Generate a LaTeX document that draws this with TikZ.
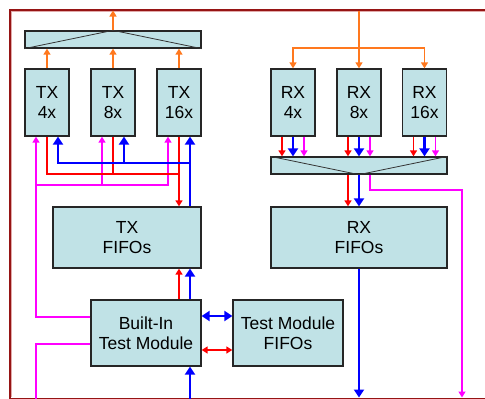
\documentclass[tikz,border=0pt]{standalone}
\usepackage{fontspec}
\setmainfont{Liberation Sans}
\usetikzlibrary{arrows.meta}

\definecolor{boxfill}{RGB}{192,226,230}
\definecolor{sigorange}{RGB}{255,120,30}
\definecolor{sigred}{RGB}{255,0,0}
\definecolor{sigblue}{RGB}{0,0,255}
\definecolor{sigmag}{RGB}{255,0,255}
\definecolor{framered}{RGB}{150,20,20}
\definecolor{framepink}{RGB}{225,170,170}

\begin{document}
\begin{tikzpicture}[x=1pt, y=-1pt,
  box/.style={rectangle, draw=black!85, line width=1.3pt, fill=boxfill,
              font=\fontsize{17.5}{20.5}\selectfont, align=center, inner sep=0pt},
  lane/.style={box, minimum width=44pt, minimum height=67pt},
  fifo/.style={box, minimum height=61pt},
  module/.style={box, minimum width=110pt, minimum height=66pt},
  mux/.style={box, minimum width=176pt, minimum height=17pt},
  muxline/.style={draw=black!80, line width=0.8pt},
  wireorange/.style={-{Triangle[length=6pt,width=7pt]}, draw=sigorange, line width=1.4pt},
  wirered/.style={draw=sigred, line width=1.5pt, >={Triangle[length=6pt,width=7pt]}},
  wireblue/.style={draw=sigblue, line width=2.2pt, >={Triangle[length=8pt,width=10pt]}},
  wiremag/.style={draw=sigmag, line width=1.4pt, >={Triangle[length=6pt,width=7pt]}}
]
  \useasboundingbox (0,0) rectangle (485,399);

  % frame
  \draw[framered, line width=2pt] (486,9.5) -- (9.5,9.5) -- (9.5,398.5) -- (486,398.5);
  \draw[framepink, line width=0.8pt] (486,11.5) -- (11.5,11.5) -- (11.5,397);

  % TX side
  \node[mux]  (txmux) at (113,39.5) {};
  \node[lane] (tx4)   at (47,102.5)  {TX\\4x};
  \node[lane] (tx8)   at (113,102.5) {TX\\8x};
  \node[lane] (tx16)  at (179,102.5) {TX\\16x};
  \node[fifo, minimum width=148pt] (txfifo) at (127,237.5) {TX\\FIFOs};
  \node[module] (bist)   at (146,333) {Built-In\\Test Module};
  \node[module] (tmfifo) at (288,333) {Test Module\\FIFOs};

  % RX side
  \node[lane] (rx4)  at (293,102.5)   {RX\\4x};
  \node[lane] (rx8)  at (359,102.5)   {RX\\8x};
  \node[lane] (rx16) at (424.5,102.5) {RX\\16x};
  \node[mux]  (rxmux) at (359,165.5) {};
  \node[fifo, minimum width=176pt] (rxfifo) at (359,237.5) {RX\\FIFOs};

  \draw[muxline] (txmux.south west) -- (txmux.north) -- (txmux.south east);
  \draw[muxline] (rxmux.north west) -- (rxmux.south) -- (rxmux.north east);

  \coordinate (txout)  at (113,10.5);
  \coordinate (rxin)   at (359,10.5);
  \coordinate (ofork)  at (359,48);
  \coordinate (mfork)  at (36,185);
  \coordinate (rfork)  at (179,174);
  \coordinate (bfork)  at (190,163);
  \coordinate (bistin) at (190,399);
  \coordinate (mout)   at (36,399);
  \coordinate (mturn)  at (462,190);
  \coordinate (mrxout) at (462,397.5);
  \coordinate (rxout)  at (359,397.5);

  % orange
  \foreach \n in {tx4,tx8,tx16}
    \draw[wireorange] (\n.north) -- (\n.north |- txmux.south);
  \draw[wireorange] (txmux.north) -- (txout);
  \draw[wireorange] (rxin) -- (rx8.north);
  \draw[wireorange] (ofork) -| (rx4.north);
  \draw[wireorange] (ofork) -| (rx16.north);

  % TX lanes
  \draw[wiremag] ([yshift=16pt]bist.west) -| (mfork);
  \draw[wiremag,->] (mfork) -- (mfork |- tx4.south);
  \draw[wiremag,->] (mfork) -| ([xshift=-11pt]tx8.south);
  \draw[wiremag,->] (mfork) -| ([xshift=-11pt]tx16.south);
  \draw[wiremag] ([yshift=-11pt]bist.west) -| (mout);

  \draw[wirered] (tx4.south) |- (rfork);
  \draw[wirered] (tx8.south) |- (rfork);
  \draw[wirered,->] (tx16.south) -- (tx16.south |- txfifo.north);

  \draw[wireblue,->] (bfork) -- ([xshift=11pt]tx16.south);
  \draw[wireblue,->] (bfork) -| ([xshift=11pt]tx8.south);
  \draw[wireblue,->] (bfork) -| ([xshift=11pt]tx4.south);
  \draw[wireblue] (bfork) -- (bfork |- txfifo.north);

  \draw[wirered,->]  (bist.north -| rfork) -- (txfifo.south -| rfork);
  \draw[wireblue,->] (bist.north -| bfork) -- (txfifo.south -| bfork);
  \draw[wireblue,->] (bistin) -- (bistin |- bist.south);

  \draw[wireblue,<->] ([yshift=17pt]bist.east) -- ([yshift=17pt]tmfifo.west);
  \draw[wirered,<->]  ([yshift=-17pt]bist.east) -- ([yshift=-17pt]tmfifo.west);

  % RX lanes
  \foreach \n in {rx4,rx8,rx16} {
    \draw[wirered,->]  ([xshift=-11pt]\n.south) -- ([xshift=-11pt]\n.south |- rxmux.north);
    \draw[wireblue,->] (\n.south) -- (\n.south |- rxmux.north);
    \draw[wiremag,->]  ([xshift=11pt]\n.south) -- ([xshift=11pt]\n.south |- rxmux.north);
  }
  \draw[wirered,->]  ([xshift=-11pt]rxmux.south) -- ([xshift=-11pt]rxfifo.north);
  \draw[wireblue,->] (rxmux.south) -- (rxfifo.north);
  \draw[wiremag,->]  ([xshift=11pt]rxmux.south) |- (mturn) -- (mrxout);
  \draw[wireblue,->] (rxfifo.south) -- (rxout);

\end{tikzpicture}
\end{document}
